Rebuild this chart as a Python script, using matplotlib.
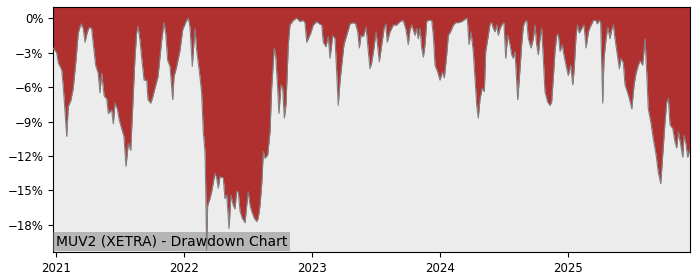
import numpy as np
import pandas as pd
import matplotlib
matplotlib.use("Agg")
import matplotlib.pyplot as plt
from matplotlib.ticker import FuncFormatter
import matplotlib.dates as mdates

title_text = "MUV2 (XETRA) - Drawdown Chart"

# decimal-year positions of the readings
years = [
    2020.977, 2021.005, 2021.018, 2021.045, 2021.057, 2021.070, 2021.084, 2021.096, 2021.115, 2021.135,
    2021.156, 2021.174, 2021.195, 2021.213, 2021.227, 2021.245, 2021.260, 2021.279, 2021.291, 2021.310,
    2021.330, 2021.344, 2021.357, 2021.377, 2021.396, 2021.409, 2021.435, 2021.448, 2021.461, 2021.479,
    2021.495, 2021.513, 2021.531, 2021.547, 2021.565, 2021.584, 2021.602, 2021.617, 2021.630, 2021.641,
    2021.656, 2021.672, 2021.688, 2021.709, 2021.719, 2021.740, 2021.755, 2021.773, 2021.797, 2021.826,
    2021.844, 2021.857, 2021.873, 2021.891, 2021.912, 2021.922, 2021.943, 2021.969, 2021.990, 2022.016,
    2022.034, 2022.047, 2022.065, 2022.086, 2022.099, 2022.125, 2022.138, 2022.151, 2022.164, 2022.170,
    2022.177, 2022.185, 2022.203, 2022.216, 2022.242, 2022.255, 2022.268, 2022.281, 2022.307, 2022.320,
    2022.334, 2022.352, 2022.367, 2022.385, 2022.398, 2022.412, 2022.424, 2022.438, 2022.455, 2022.477,
    2022.490, 2022.502, 2022.516, 2022.529, 2022.549, 2022.568, 2022.580, 2022.594, 2022.607, 2022.620,
    2022.633, 2022.654, 2022.672, 2022.685, 2022.705, 2022.716, 2022.732, 2022.742, 2022.758, 2022.771,
    2022.784, 2022.797, 2022.815, 2022.828, 2022.854, 2022.880, 2022.906, 2022.932, 2022.945, 2022.959,
    2022.971, 2022.990, 2023.010, 2023.037, 2023.057, 2023.076, 2023.088, 2023.109, 2023.127, 2023.141,
    2023.162, 2023.180, 2023.193, 2023.205, 2023.219, 2023.232, 2023.250, 2023.271, 2023.297, 2023.323,
    2023.341, 2023.357, 2023.370, 2023.383, 2023.401, 2023.422, 2023.435, 2023.453, 2023.466, 2023.484,
    2023.500, 2023.510, 2023.526, 2023.545, 2023.563, 2023.576, 2023.588, 2023.609, 2023.635, 2023.662,
    2023.688, 2023.713, 2023.734, 2023.752, 2023.766, 2023.779, 2023.805, 2023.818, 2023.830, 2023.844,
    2023.857, 2023.870, 2023.883, 2023.896, 2023.909, 2023.935, 2023.948, 2023.961, 2023.982, 2024.000,
    2024.018, 2024.034, 2024.052, 2024.065, 2024.086, 2024.104, 2024.123, 2024.143, 2024.170, 2024.195,
    2024.213, 2024.227, 2024.242, 2024.260, 2024.273, 2024.287, 2024.299, 2024.313, 2024.330, 2024.346,
    2024.357, 2024.373, 2024.391, 2024.404, 2024.416, 2024.430, 2024.443, 2024.455, 2024.469, 2024.487,
    2024.500, 2024.513, 2024.529, 2024.547, 2024.560, 2024.573, 2024.586, 2024.599, 2024.607, 2024.620,
    2024.638, 2024.651, 2024.664, 2024.677, 2024.690, 2024.711, 2024.729, 2024.742, 2024.755, 2024.768,
    2024.781, 2024.794, 2024.807, 2024.820, 2024.841, 2024.859, 2024.872, 2024.885, 2024.898, 2024.912,
    2024.924, 2024.938, 2024.955, 2024.963, 2024.984, 2025.002, 2025.021, 2025.037, 2025.047, 2025.063,
    2025.073, 2025.088, 2025.107, 2025.125, 2025.141, 2025.159, 2025.172, 2025.185, 2025.198, 2025.216,
    2025.229, 2025.245, 2025.255, 2025.271, 2025.281, 2025.297, 2025.310, 2025.328, 2025.341, 2025.354,
    2025.367, 2025.385, 2025.401, 2025.414, 2025.432, 2025.445, 2025.463, 2025.479, 2025.498, 2025.516,
    2025.531, 2025.549, 2025.563, 2025.583, 2025.602, 2025.615, 2025.627, 2025.646, 2025.666, 2025.688,
    2025.705, 2025.724, 2025.740, 2025.758, 2025.771, 2025.784, 2025.797, 2025.818, 2025.836, 2025.849,
    2025.862, 2025.880, 2025.896, 2025.906, 2025.922, 2025.935, 2025.953,
]

drawdown = [
    -2.6, -3.0, -3.9, -4.5, -6.0, -8.0, -10.3, -7.7, -7.2, -6.1,
    -3.7, -1.3, -0.5, -0.9, -2.1, -1.2, -0.8, -0.9, -2.2, -4.1,
    -4.8, -6.5, -4.8, -6.8, -7.0, -8.3, -8.0, -9.2, -7.4, -7.9,
    -8.9, -9.6, -10.3, -12.9, -10.9, -11.5, -7.1, -3.5, -1.3, -0.7,
    -1.9, -3.7, -5.4, -5.4, -7.1, -7.4, -6.9, -6.1, -5.1, -1.9,
    -0.4, -1.3, -3.7, -4.2, -7.1, -5.1, -4.2, -2.8, -1.0, -0.3,
    0.0, -0.8, -4.2, -0.9, -2.8, -5.1, -6.5, -9.9, -11.6, -14.8,
    -20.2, -16.3, -15.7, -15.1, -13.5, -13.9, -14.8, -13.8, -13.9, -15.7,
    -15.4, -18.3, -15.4, -16.3, -16.6, -15.1, -15.1, -16.8, -17.4, -17.8,
    -16.3, -15.1, -16.3, -16.8, -17.4, -17.7, -17.4, -16.3, -14.5, -11.6,
    -12.2, -11.9, -9.9, -6.1, -2.6, -3.2, -6.1, -8.3, -5.8, -6.1,
    -8.7, -7.5, -2.3, -0.6, -0.2, 0.0, -0.3, -0.2, -0.4, -2.1,
    -1.8, -1.3, -0.6, -0.3, -0.5, -0.6, -2.1, -2.5, -1.6, -3.5,
    -1.5, -1.8, -4.7, -7.6, -5.5, -4.1, -2.3, -1.5, -0.5, -0.4,
    -0.5, -1.2, -2.6, -1.5, -1.6, -0.8, -2.3, -4.4, -3.9, -2.6,
    -1.2, -2.1, -3.8, -2.3, -0.9, -0.5, -2.1, -1.2, -0.6, -0.6,
    -0.3, -0.2, -1.0, -2.3, -1.0, -0.6, -1.5, -0.9, -1.8, -0.9,
    -2.6, -3.4, -2.3, -0.3, -0.2, -0.2, -1.5, -4.1, -4.7, -5.4,
    -4.7, -5.2, -3.2, -1.5, -1.1, -0.6, -0.4, -0.4, -0.3, -0.1,
    0.0, -2.3, -1.2, -2.9, -5.2, -7.6, -8.7, -7.0, -6.1, -6.4,
    -2.9, -1.8, -0.5, -0.4, -0.9, -1.2, -0.6, -1.5, -0.9, -0.5,
    -0.4, -3.5, -1.5, -2.3, -3.2, -3.5, -2.9, -5.5, -7.1, -5.2,
    -2.3, -0.7, -0.3, -0.2, -1.8, -2.6, -1.8, -0.6, -2.3, -3.2,
    -1.8, -0.9, -3.5, -6.4, -7.3, -7.6, -7.3, -5.2, -2.9, -1.5,
    -1.4, -2.9, -2.3, -2.9, -4.1, -5.0, -4.1, -5.8, -4.6, -1.5,
    -0.6, -1.3, -0.9, -0.6, -2.6, -1.2, -0.8, -0.5, -0.2, -0.2,
    -0.5, -0.2, -0.4, -7.4, -3.5, -1.8, -0.8, -1.8, -1.0, -0.6,
    -1.8, -3.2, -4.4, -3.5, -3.9, -5.8, -6.4, -7.0, -7.9, -5.8,
    -4.8, -4.1, -3.7, -4.1, -1.8, -4.8, -7.9, -9.0, -10.5, -11.9,
    -13.4, -14.4, -11.9, -9.0, -7.3, -7.0, -9.3, -9.6, -10.8, -11.3,
    -9.9, -11.0, -12.1, -10.2, -11.0, -12.1, -11.4,
]

year_ticks = [2021, 2022, 2023, 2024, 2025]
pct_ticks = [-18, -15, -12, -9, -6, -3, 0]

RED = "#b03030"
BG = "#ececec"

yrs = np.array(years)
base = pd.Timestamp("2021-01-01")
dates = base + pd.to_timedelta((yrs - 2021.0) * 365.25, unit="D")
dd = np.array(drawdown)

fig = plt.figure(figsize=(7.0, 2.8), dpi=100)
ax = fig.add_axes([53 / 700, 1 - 252 / 280, (690 - 53) / 700, (252 - 7) / 280])
ax.set_facecolor(BG)

top = 0.96
bottom = -20.35
ax.fill_between(dates, dd, top, color=RED, linewidth=0, zorder=2)
ax.plot(dates, dd, color="gray", linewidth=0.8, zorder=3)

ax.set_xlim(dates[0], dates[-1])
ax.set_ylim(bottom, top)

ax.set_xticks([pd.Timestamp(f"{y}-01-01") for y in year_ticks])
ax.xaxis.set_major_formatter(mdates.DateFormatter("%Y"))
ax.set_yticks(pct_ticks)
ax.yaxis.set_major_formatter(FuncFormatter(lambda v, p: f"{v:.0f}%".replace("-", "\u2212")))
ax.tick_params(labelsize=8.5)

ax.annotate(title_text, xy=(0, 0), xycoords="axes fraction",
            xytext=(2.2, 2.6), textcoords="offset points",
            ha="left", va="bottom", fontsize=10, color="black", zorder=5,
            bbox=dict(boxstyle="square,pad=0.2", facecolor="gray", alpha=0.5, edgecolor="none"))

fig.savefig("out.png", dpi=100)
